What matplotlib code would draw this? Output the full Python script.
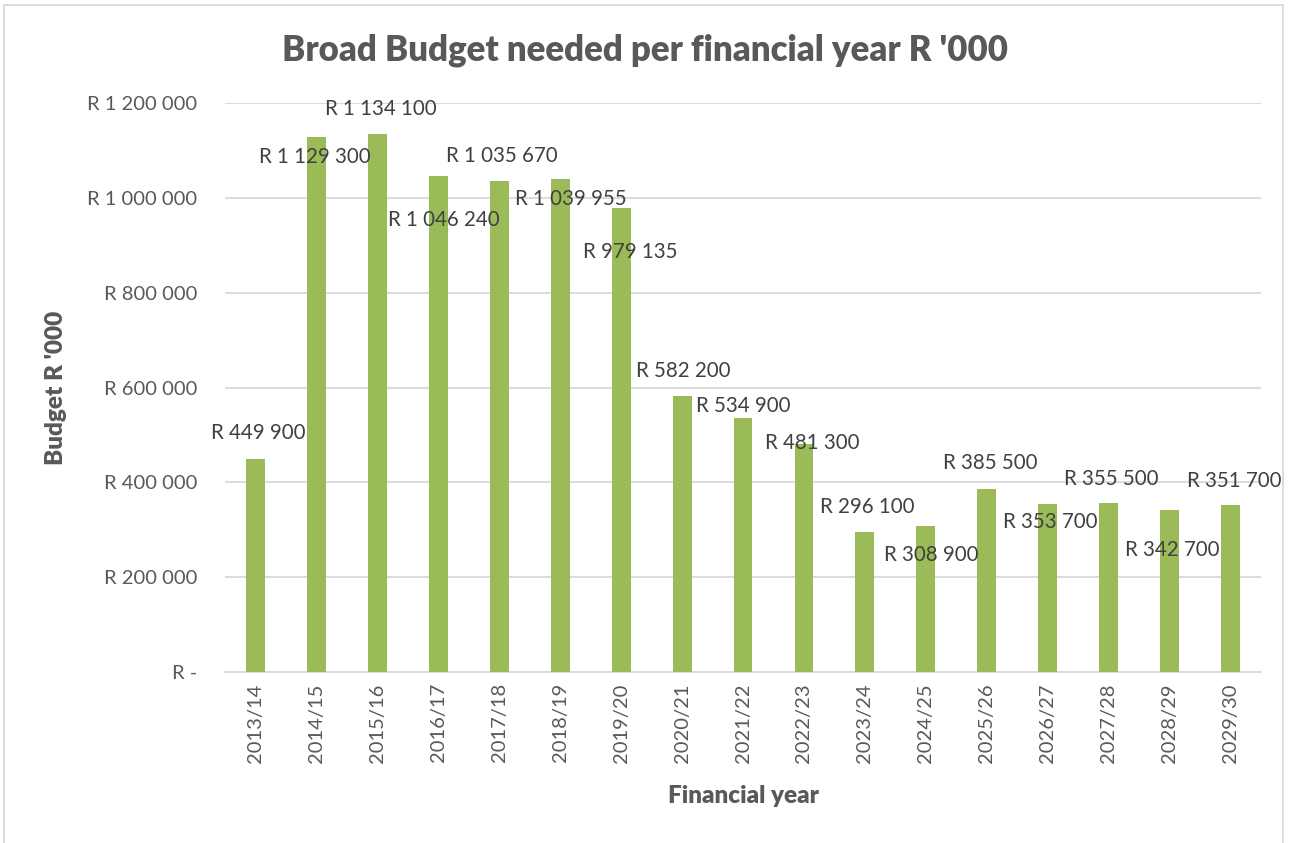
import matplotlib
matplotlib.use("Agg")
import matplotlib.pyplot as plt
from matplotlib.patches import Rectangle

# data
years = ["2013/14", "2014/15", "2015/16", "2016/17", "2017/18", "2018/19",
         "2019/20", "2020/21", "2021/22", "2022/23", "2023/24", "2024/25",
         "2025/26", "2026/27", "2027/28", "2028/29", "2029/30"]
budget = [449900, 1129300, 1134100, 1046240, 1035670, 1039955, 979135,
          582200, 534900, 481300, 296100, 308900, 385500, 353700, 355500,
          342700, 351700]

# label offsets from bar top (pixels), the labels were moved by hand in the original
label_dx = [3, -2, 3, 5, 3, 11, 9, 1, 0, 8, 2, 5, 3, 3, 3, 3, 4]
label_dy = [26, -20, 25, -44, 25, -20, -44, 25, 12, 1, 25, -29, 26, -18, 24, -40, 24]

plt.rcParams['font.family'] = ['Lato', 'DejaVu Sans']
grey = '#595959'
dark = '#404040'

fig = plt.figure(figsize=(12.91, 8.43), dpi=100)
ax = fig.add_axes([0.1743, 0.2028, 0.8025, 0.675])

x = range(len(years))
ax.bar(x, budget, width=0.31, color='#9BBB59', zorder=3)

for i, v in enumerate(budget):
    txt = "R " + f"{v:,}".replace(",", " ")
    ax.annotate(txt, (i, v), xytext=(label_dx[i], label_dy[i]),
                textcoords='offset pixels', ha='center', va='center',
                fontsize=14.8, color=dark, zorder=4)

ax.set_xlim(-0.5, len(years) - 0.5)
ax.set_ylim(0, 1200000)
yt = [0, 200000, 400000, 600000, 800000, 1000000, 1200000]
ax.set_yticks(yt)
ax.set_yticklabels(["R -"] + ["R " + f"{t:,}".replace(",", " ") for t in yt[1:]])
ax.set_xticks(list(x))
ax.set_xticklabels(years, rotation=90)
ax.tick_params(axis='both', length=0, colors=grey, labelsize=14.5)
ax.tick_params(axis='y', pad=20)
ax.tick_params(axis='x', pad=8)
ax.grid(axis='y', color='#D9D9D9', linewidth=1.3, zorder=0)
for s in ['top', 'right', 'left']:
    ax.spines[s].set_visible(False)
ax.spines['bottom'].set_color('#D9D9D9')
ax.spines['bottom'].set_linewidth(1.3)

ax.set_xlabel("Financial year", fontsize=17.5, fontweight='heavy', color=grey, labelpad=16)
fig.text(0.043, 0.54, "Budget R '000", rotation=90, fontsize=17.5, fontweight='heavy',
         color=grey, ha='center', va='center')
fig.text(0.5, 0.94, "Broad Budget needed per financial year R '000", fontsize=25,
         fontweight='heavy', color=grey, ha='center', va='center')

fig.patches.append(Rectangle((0.003, -0.01), 0.991, 1.004, transform=fig.transFigure,
                             fill=False, edgecolor='#D9D9D9', linewidth=1.3))

fig.savefig("out.png", dpi=100)
